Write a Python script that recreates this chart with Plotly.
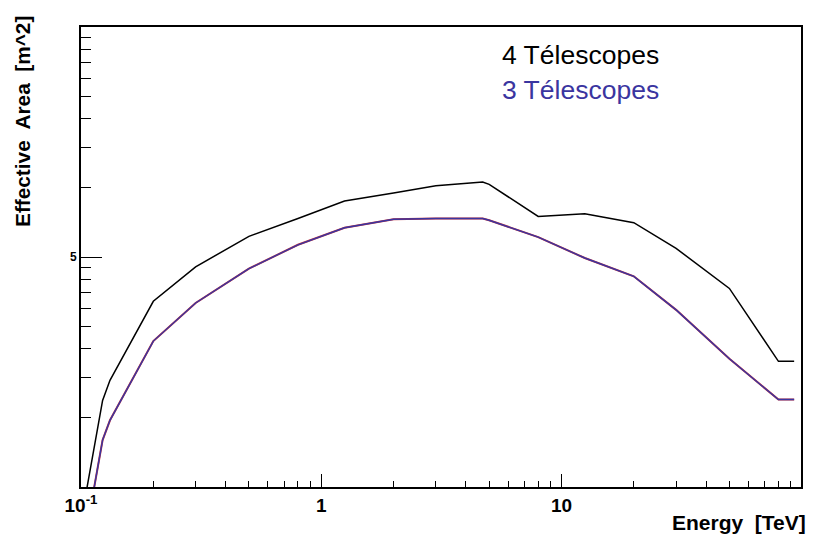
import plotly.graph_objects as go

# Data (energy in TeV, effective area in m^2)
energy = [0.1, 0.123, 0.132, 0.2, 0.3, 0.5, 0.8, 1.25, 2, 3, 4.7, 5, 8, 12.5, 20, 30, 50, 80, 93]
area_4tel = [7100, 23800, 29100, 64200, 90600, 123000, 147000, 175000, 190000, 204000, 212000,
             207000, 150000, 154000, 141000, 109000, 73000, 35200, 35200]
area_3tel = [4750, 16000, 19500, 43100, 63100, 89000, 113000, 134000, 146000, 147000, 147000,
             144500, 122000, 99000, 82400, 58900, 36100, 24000, 24000]

x_tickvals = [0.1, 1, 10]
x_ticktext = ["10<sup>-1</sup>", "1", "10"]
x_minor = [m * 10 ** d for d in (-1, 0, 1) for m in range(2, 10)]
y_tickvals = [1e5]
y_ticktext = ["5"]
y_minor = [m * 10 ** d for d in (4, 5) for m in range(2, 10)]

FONT = "Liberation Sans, Arial, Helvetica, sans-serif"

fig = go.Figure()
fig.add_trace(go.Scatter(x=energy, y=area_4tel, mode="lines",
                         line=dict(color="black", width=1.5), showlegend=False))
fig.add_trace(go.Scatter(x=energy, y=area_3tel, mode="lines",
                         line=dict(color="#c0303a", width=2.0), showlegend=False))
fig.add_trace(go.Scatter(x=energy, y=area_3tel, mode="lines",
                         line=dict(color="#3a35a0", width=1.4), showlegend=False))

fig.update_layout(
    width=814, height=535,
    margin=dict(l=81, r=13, t=27, b=48),
    paper_bgcolor="white", plot_bgcolor="white",
    font=dict(family=FONT, color="black"),
)

fig.update_xaxes(
    type="log", range=[-1, 1.997],
    showgrid=False, zeroline=False,
    showline=True, linecolor="black", linewidth=1.8, mirror=True,
    ticks="inside", ticklen=13, tickwidth=1.3, tickcolor="black",
    tickvals=x_tickvals, ticktext=x_ticktext,
    tickfont=dict(size=19, family=FONT, color="black", weight="bold"),
    minor=dict(tickvals=x_minor, ticks="inside", ticklen=6, tickwidth=1.1, tickcolor="black"),
)
fig.update_yaxes(
    type="log", range=[4, 6],
    showgrid=False, zeroline=False,
    showline=True, linecolor="black", linewidth=1.8, mirror=True,
    ticks="inside", ticklen=21, tickwidth=1.3, tickcolor="black",
    tickvals=y_tickvals, ticktext=y_ticktext,
    tickfont=dict(size=12, family=FONT, color="black", weight="bold"),
    minor=dict(tickvals=y_minor, ticks="inside", ticklen=10, tickwidth=1.1, tickcolor="black"),
)

fig.add_annotation(text="Effective  Area  [m^2]", xref="paper", yref="paper",
                   x=-0.081, y=0.795, xanchor="center", yanchor="middle", textangle=-90,
                   showarrow=False, font=dict(size=20.8, family=FONT, color="black", weight="bold"))
fig.add_annotation(text="Energy  [TeV]", xref="paper", yref="paper",
                   x=1.0101, y=-0.0767, xanchor="right", yanchor="middle",
                   showarrow=False, font=dict(size=21, family=FONT, color="black", weight="bold"))
fig.add_annotation(text="4 Télescopes", xref="paper", yref="paper",
                   x=0.5822, y=0.9385, xanchor="left", yanchor="middle",
                   showarrow=False, font=dict(size=26.5, family=FONT, color="black"))
fig.add_annotation(text="3 Télescopes", xref="paper", yref="paper",
                   x=0.5822, y=0.862, xanchor="left", yanchor="middle",
                   showarrow=False, font=dict(size=26.5, family=FONT, color="#3a35a0"))

fig.write_html("out.html", post_script="document.body.style.margin='0px';",
               config={"displayModeBar": False})
